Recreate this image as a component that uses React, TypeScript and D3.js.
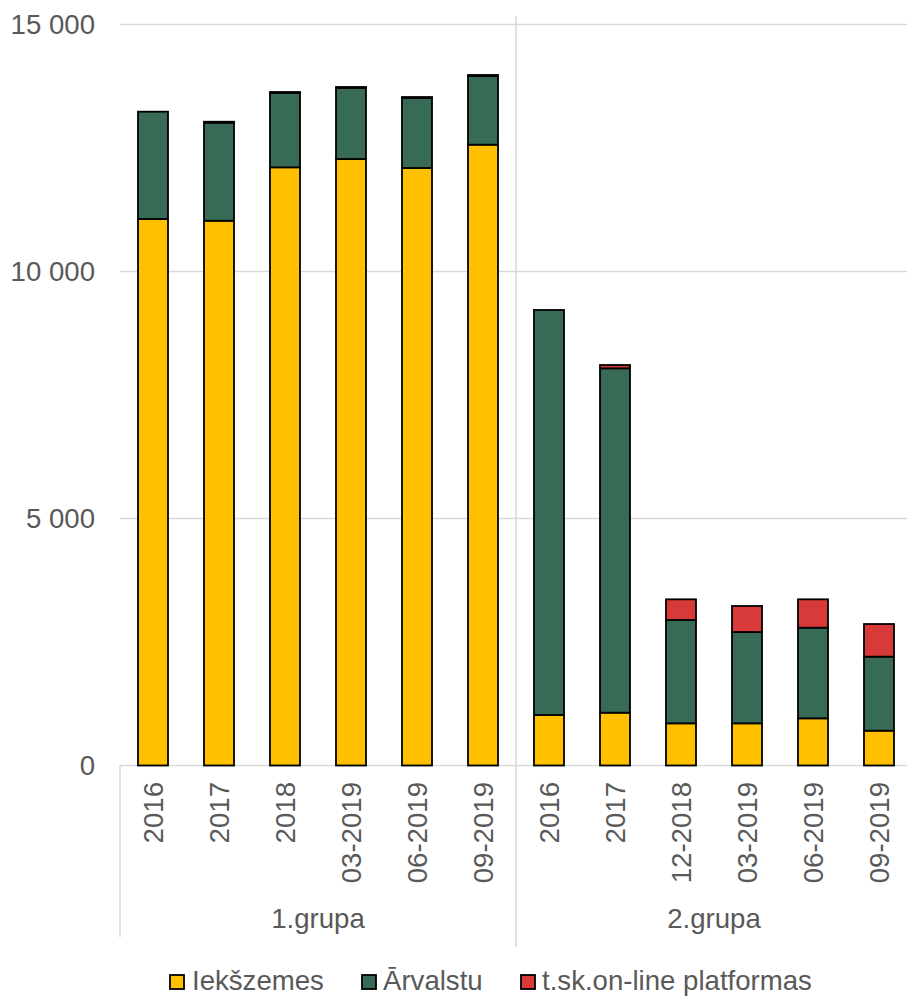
import React from "react";
import * as d3 from "d3";

const categories = [
  "2016", "2017", "2018", "03-2019", "06-2019", "09-2019",
  "2016", "2017", "12-2018", "03-2019", "06-2019", "09-2019",
];
const groups = ["1.grupa", "2.grupa"];
const iekszemes = [11063, 11028, 12109, 12277, 12095, 12567, 1022, 1069, 854, 854, 955, 705];
const arvalstu = [2172, 1984, 1505, 1438, 1417, 1391, 8199, 6971, 2091, 1848, 1835, 1498];
const platformas = [0, 20, 20, 20, 20, 20, 0, 67, 419, 527, 574, 661];
const seriesNames = ["Iekšzemes", "Ārvalstu", "t.sk.on-line platformas"];
const yTicks = [0, 5000, 10000, 15000];

const colors = ["#FFC000", "#386B55", "#D83A3A"];
const FONT = "'Liberation Sans', Arial, sans-serif";
const TEXT = "#595959";
const GRID = "#d9d9d9";
const FS = 27.6;

export default function App() {
  const W = 907, H = 996;
  const left = 120, right = 912;
  const y = d3.scaleLinear().domain([0, 15000]).range([765.5, 24.5]);
  const x = d3.scaleBand<number>().domain(d3.range(categories.length)).range([left, right]).paddingInner(0).paddingOuter(0);
  const bw = 30;

  const rows = categories.map((c, i) => ({ i, a: iekszemes[i], b: arvalstu[i], c: platformas[i] }));
  const stack = d3.stack<any>().keys(["a", "b", "c"])(rows);

  const fmt = (v: number) => d3.format(",")(v).replace(/,/g, " ");
  const groupMid = (g: number) => (x(g * 6)! + x(g * 6 + 5)! + x.bandwidth()) / 2;
  const divX = x(6)!;

  const legendItems = [
    { sx: 170, tx: 192 },
    { sx: 362, tx: 383 },
    { sx: 521, tx: 542 },
  ];

  return (
    <svg width={W} height={H} style={{ position: "absolute", left: 0, top: 0, background: "#fff" }} fontFamily={FONT}>
      {yTicks.map((t) => (
        <g key={t}>
          <line x1={left} x2={W} y1={y(t)} y2={y(t)} stroke={GRID} strokeWidth={1.5} />
          <text x={95} y={y(t) + 9.7} textAnchor="end" fontSize={FS} fill={TEXT}>{fmt(t)}</text>
        </g>
      ))}
      {/* axis lines */}
      <line x1={left} x2={left} y1={y(0)} y2={937} stroke={GRID} strokeWidth={1.5} />
      <line x1={divX} x2={divX} y1={16} y2={947} stroke={GRID} strokeWidth={1.5} />

      {stack.map((s, si) => (
        <g key={si} fill={colors[si]} stroke="#000" strokeWidth={1.8}>
          {s.map((d: any, i: number) => {
            const cx = x(i)! + x.bandwidth() / 2;
            const y0 = y(d[0]), y1 = y(d[1]);
            if (d[1] - d[0] <= 0) return null;
            return <rect key={i} x={cx - bw / 2} y={y1} width={bw} height={Math.max(0.5, y0 - y1)} />;
          })}
        </g>
      ))}

      {categories.map((c, i) => {
        const cx = x(i)! + x.bandwidth() / 2;
        return (
          <text key={i} transform={`translate(${cx + 9.7},782) rotate(-90)`} textAnchor="end" fontSize={FS} fill={TEXT}>{c}</text>
        );
      })}
      {groups.map((g, gi) => (
        <text key={g} x={groupMid(gi)} y={928} textAnchor="middle" fontSize={FS} fill={TEXT}>{g}</text>
      ))}

      {seriesNames.map((n, i) => (
        <g key={n}>
          <rect x={legendItems[i].sx} y={975} width={14} height={14} fill={colors[i]} stroke="#000" strokeWidth={1.8} />
          <text x={legendItems[i].tx} y={990} fontSize={FS} fill={TEXT}>{n}</text>
        </g>
      ))}
    </svg>
  );
}
